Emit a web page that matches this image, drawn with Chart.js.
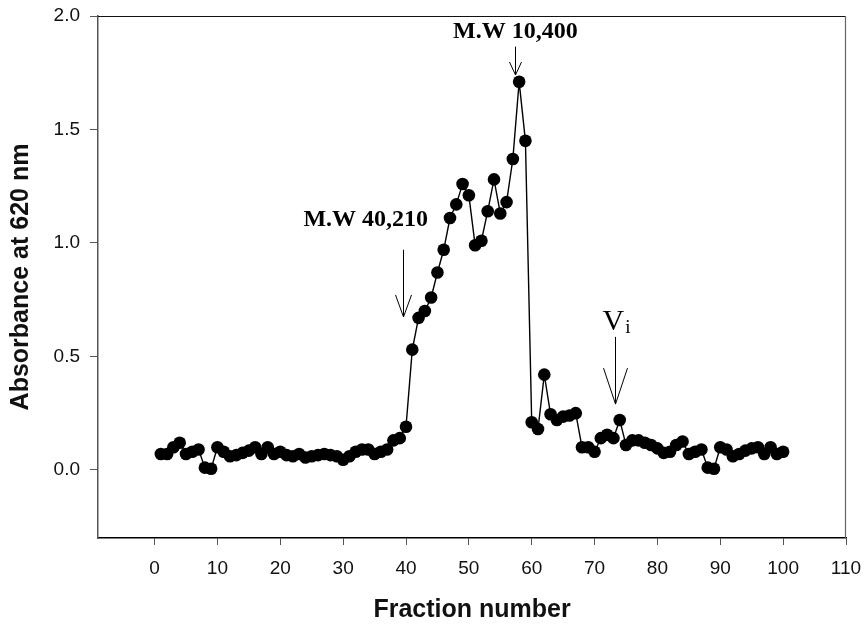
<!DOCTYPE html>
<html>
<head>
<meta charset="utf-8">
<script src="https://cdn.jsdelivr.net/npm/chart.js@4.4.1/dist/chart.umd.min.js"></script>
<style>
	html, body { margin: 0; padding: 0; background: #fff; }
	#wrap { width: 867px; height: 625px; }
</style>
</head>
<body>
<div id="wrap"><canvas id="myChart" width="867" height="625"></canvas></div>
<script>
// fraction number 1..100
let fractions = [];
for (let i = 1; i <= 100; i++) fractions.push(i);

let absorbance = [
	0.07, 0.07, 0.10, 0.12, 0.07, 0.08, 0.09, 0.01, 0.005, 0.10,
	0.08, 0.06, 0.065, 0.075, 0.085, 0.10, 0.07, 0.10, 0.07, 0.08,
	0.065, 0.06, 0.07, 0.055, 0.06, 0.065, 0.07, 0.065, 0.06, 0.045,
	0.06, 0.08, 0.09, 0.09, 0.07, 0.08, 0.09, 0.13, 0.14, 0.19,
	0.53, 0.67, 0.70, 0.76, 0.87, 0.97, 1.11, 1.17, 1.26, 1.21,
	0.99, 1.01, 1.14, 1.28, 1.13, 1.18, 1.37, 1.71, 1.45, 0.21,
	0.18, 0.42, 0.245, 0.22, 0.235, 0.24, 0.25, 0.10, 0.10, 0.08,
	0.14, 0.155, 0.14, 0.22, 0.11, 0.13, 0.13, 0.12, 0.11, 0.095,
	0.075, 0.08, 0.11, 0.125, 0.07, 0.08, 0.09, 0.01, 0.005, 0.10,
	0.09, 0.06, 0.07, 0.085, 0.095, 0.10, 0.07, 0.10, 0.07, 0.08
];

let xTicks = [0, 10, 20, 30, 40, 50, 60, 70, 80, 90, 100, 110];
let yTicks = [0, 0.5, 1.0, 1.5, 2.0];

// arrows: fraction, arrow top, arrow tip (absorbance units)
let markers = [
	{ label: 'M.W 40,210', x: 39.5, top: 0.97, tip: 0.674, textX: 33.6, textY: 1.10, head: 22, half: 8 },
	{ label: 'M.W 10,400', x: 57.4, top: 1.865, tip: 1.74, textX: 57.4, textY: 1.93, head: 13, half: 6 },
	{ label: 'V', sub: 'i', x: 73.3, top: 0.586, tip: 0.29, textX: 72.7, textY: 0.617, head: 36, half: 12 }
];

let frame = {
	id: 'frame',
	afterDraw: function (chart) {
		let ctx = chart.ctx;
		let a = chart.chartArea;
		let sx = chart.scales.x, sy = chart.scales.y;
		ctx.save();
		ctx.lineWidth = 1.2;
		ctx.strokeStyle = '#111';
		ctx.beginPath();
		ctx.moveTo(a.left, a.top + 0.5);
		ctx.lineTo(a.right, a.top + 0.5);
		ctx.stroke();
		ctx.strokeStyle = '#666';
		ctx.beginPath();
		ctx.moveTo(a.right - 0.5, a.top);
		ctx.lineTo(a.right - 0.5, a.bottom);
		ctx.stroke();

		ctx.strokeStyle = '#000';
		ctx.lineWidth = 1;
		ctx.fillStyle = '#000';
		markers.forEach(function (m) {
			let px = Math.round(sx.getPixelForValue(m.x)) + 0.5;
			let pTop = sy.getPixelForValue(m.top);
			let pTip = sy.getPixelForValue(m.tip);
			ctx.beginPath();
			ctx.moveTo(px, pTop);
			ctx.lineTo(px, pTip);
			ctx.moveTo(px - m.half, pTip - m.head);
			ctx.lineTo(px, pTip);
			ctx.lineTo(px + m.half, pTip - m.head);
			ctx.stroke();

			let tx = sx.getPixelForValue(m.textX);
			let ty = sy.getPixelForValue(m.textY);
			if (m.sub) {
				ctx.font = '30px "Liberation Serif", "Times New Roman", serif';
				ctx.textAlign = 'left';
				ctx.textBaseline = 'alphabetic';
				ctx.fillText(m.label, tx - 9, ty);
				let w = ctx.measureText(m.label).width;
				ctx.font = '19px "Liberation Serif", "Times New Roman", serif';
				ctx.fillText(m.sub, tx - 9 + w + 1, ty + 3);
			} else {
				ctx.font = 'bold 24px "Liberation Serif", "Times New Roman", serif';
				ctx.textAlign = 'center';
				ctx.textBaseline = 'middle';
				ctx.fillText(m.label, tx, ty);
			}
		});
		ctx.restore();
	}
};

var ctx = document.getElementById('myChart').getContext('2d');
var myChart = new Chart(ctx, {
	type: 'line',
	data: {
		labels: fractions,
		datasets: [{
			data: fractions.map(function (f, i) { return { x: f, y: absorbance[i] }; }),
			borderColor: '#000',
			backgroundColor: '#000',
			borderWidth: 1.4,
			pointRadius: 6.3,
			pointBorderWidth: 0,
			pointBackgroundColor: '#000',
			tension: 0
		}]
	},
	options: {
		responsive: false,
		animation: false,
		layout: { padding: { left: 0, top: 16, right: 21, bottom: 0 } },
		plugins: {
			legend: { display: false },
			tooltip: { enabled: false }
		},
		scales: {
			x: {
				type: 'linear',
				min: -9,
				max: 110,
				afterBuildTicks: function (scale) {
					scale.ticks = xTicks.map(function (v) { return { value: v }; });
				},
				afterFit: function (scale) {
					scale.height = 87;
					scale.paddingLeft = 0;
					scale.paddingRight = 0;
				},
				grid: { drawOnChartArea: false, drawTicks: true, tickLength: 7, color: '#555' },
				border: { display: true, color: '#000', width: 1.5 },
				ticks: {
					padding: 12,
					color: '#111',
					font: { family: '"Liberation Sans", Arial, sans-serif', size: 19 },
					maxRotation: 0
				},
				title: {
					display: true,
					text: 'Fraction number',
					color: '#111',
					font: { family: '"Liberation Sans", Arial, sans-serif', size: 25, weight: 'bold' },
					padding: { bottom: 0 }
				}
			},
			y: {
				min: -0.3,
				max: 2.0,
				afterBuildTicks: function (scale) {
					scale.ticks = yTicks.map(function (v) { return { value: v }; });
				},
				afterFit: function (scale) {
					scale.width = 98;
					scale.paddingTop = 0;
					scale.paddingBottom = 0;
				},
				grid: { drawOnChartArea: false, drawTicks: true, tickLength: 8, color: '#555' },
				border: { display: true, color: '#555', width: 1.5 },
				ticks: {
					padding: 10,
					color: '#111',
					font: { family: '"Liberation Sans", Arial, sans-serif', size: 19 },
					callback: function (v) { return v.toFixed(1); }
				},
				title: {
					display: true,
					text: 'Absorbance at 620 nm',
					color: '#111',
					font: { family: '"Liberation Sans", Arial, sans-serif', size: 25, weight: 'bold' },
					padding: { top: 6 }
				}
			}
		}
	},
	plugins: [frame]
});
</script>
</body>
</html>
